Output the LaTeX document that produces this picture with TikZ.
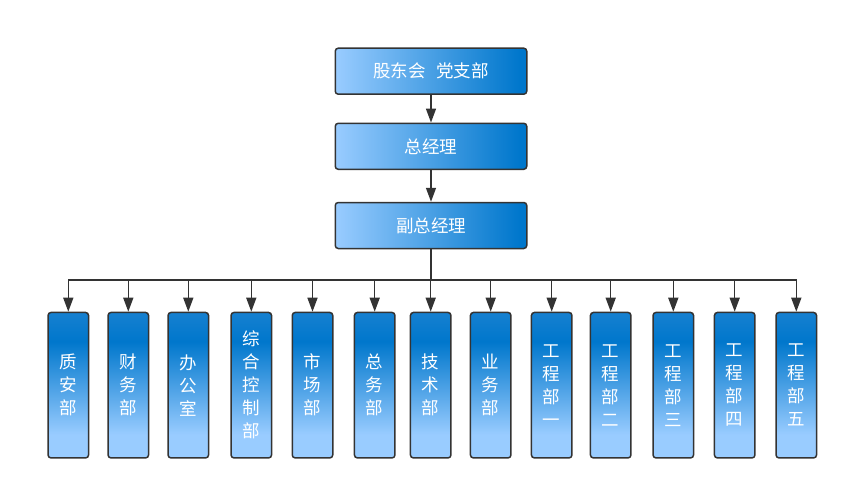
\documentclass[tikz,border=0pt]{standalone}
\usepackage{fontspec}
\setmainfont{Noto Sans CJK SC}
\usepackage{tikz}
\usetikzlibrary{arrows.meta,positioning}
\definecolor{bluedark}{RGB}{0,119,204}
\definecolor{bluetop}{RGB}{22,128,208}
\definecolor{bluelight}{RGB}{153,204,255}
\definecolor{rim}{RGB}{51,51,51}
\pgfdeclarehorizontalshading{headshade}{100bp}{color(0bp)=(bluelight); color(25bp)=(bluelight); color(73bp)=(bluedark); color(100bp)=(bluedark)}
\pgfdeclareverticalshading{deptshade}{100bp}{color(0bp)=(bluelight); color(33bp)=(bluelight); color(65bp)=(bluedark); color(75bp)=(bluetop); color(100bp)=(bluetop)}

\begin{document}
\begin{tikzpicture}[x=1pt,y=-1pt,
    box/.style={draw=rim,line width=1.5pt,rounded corners=3pt,text=white,inner sep=0pt,font=\fontsize{17.5}{23}\selectfont},
    headbox/.style={box,shading=headshade,minimum width=191.5pt,minimum height=46pt},
    deptbox/.style={box,shading=deptshade,minimum width=40.5pt,minimum height=145.5pt,align=center},
    arr/.style={draw=rim,line width=1.5pt,-{Triangle[length=14pt,width=10pt]}}]
    \useasboundingbox (0,0) rectangle (849,490);

    % top of the chart
    \node[headbox] (gdh) at (431,71.2) {股东会\hspace{0.6em}党支部};
    \node[headbox] (zjl) at (431,146.3) {总经理};
    \node[headbox] (fzjl) at (431,225.5) {副总经理};
    \coordinate (bus) at (431,280);
    \draw[arr] (gdh) -- (zjl);
    \draw[arr] (zjl) -- (fzjl);

    % departments
    \foreach \x/\n/\t in {68.3/zab/{质\\安\\部},128.3/cwb/{财\\务\\部},188.3/bgs/{办\\公\\室},
        251.3/zhkzb/{综\\合\\控\\制\\部},312.5/scb/{市\\场\\部},374.7/zwb/{总\\务\\部},
        430.7/jsb/{技\\术\\部},490.7/ywb/{业\\务\\部},551.7/gcy/{工\\程\\部\\一},
        610.7/gce/{工\\程\\部\\二},673.3/gcs/{工\\程\\部\\三},734.7/gcsi/{工\\程\\部\\四},
        796.3/gcw/{工\\程\\部\\五}}{
        \node[deptbox] (\n) at (\x,385.2) {\t};
        \draw[arr] (fzjl.south) -- (bus) -| (\n.north);
    }
\end{tikzpicture}
\end{document}
